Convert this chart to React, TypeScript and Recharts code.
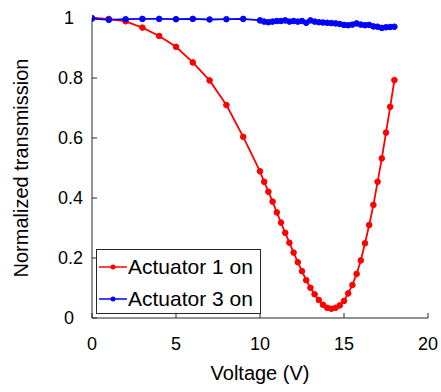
/* ── Transmission vs voltage — two actuators ─────────────────────── */

import { LineChart, Line, XAxis, YAxis } from 'recharts';

const VOLTS = [
  0, 1, 2, 3, 4, 5, 6, 7, 8, 9, 10,
  10.25, 10.5, 10.75, 11, 11.25, 11.5, 11.75, 12, 12.25, 12.5, 12.75, 13,
  13.25, 13.5, 13.75, 14, 14.25, 14.5, 14.75, 15, 15.25, 15.5, 15.75, 16,
  16.25, 16.5, 16.75, 17, 17.25, 17.5, 17.75, 18,
];

const ACT1 = [
  1.0, 0.997, 0.989, 0.968, 0.94, 0.904, 0.852, 0.792, 0.71, 0.604, 0.489,
  0.454, 0.421, 0.388, 0.352, 0.318, 0.284, 0.251, 0.218, 0.186, 0.156, 0.126, 0.101,
  0.079, 0.06, 0.044, 0.034, 0.031, 0.034, 0.042, 0.057, 0.082, 0.11, 0.147, 0.192,
  0.249, 0.31, 0.377, 0.454, 0.532, 0.618, 0.704, 0.793,
];

const ACT3 = [
  0.998, 0.994, 0.996, 0.997, 0.997, 0.996, 0.997, 0.995, 0.996, 0.997, 0.992,
  0.988, 0.986, 0.988, 0.99, 0.99, 0.992, 0.988, 0.99, 0.988, 0.99, 0.984, 0.992,
  0.988, 0.986, 0.985, 0.984, 0.983, 0.982, 0.98, 0.977, 0.976, 0.978, 0.982, 0.978,
  0.976, 0.977, 0.972, 0.971, 0.967, 0.969, 0.97, 0.971,
];

const X_TICKS = [0, 5, 10, 15, 20];
const Y_TICKS = [0, 0.2, 0.4, 0.6, 0.8, 1];

const SERIES = [
  { name: 'Actuator 1 on', color: '#ff0000', values: ACT1 },
  { name: 'Actuator 3 on', color: '#0000ff', values: ACT3 },
];

const AXIS = '#262626';
const FONT = '"Liberation Sans", Arial, Helvetica, sans-serif';

const blank = () => '';

/* matlab-ish y tick: whole numbers sit a bit further left */
function YTick({ x, y, payload }: any) {
  const v = payload.value as number;
  const dx = Number.isInteger(v) ? -9 : 0;
  return (
    <text x={x + dx} y={y} dy="0.355em" textAnchor="end" fontSize={18} fontFamily={FONT} fill="#000">
      {String(v)}
    </text>
  );
}

export default function App() {
  const data = VOLTS.map((v, i) => ({ v, a1: ACT1[i], a3: ACT3[i] }));

  return (
    <div style={{ position: 'fixed', left: 0, top: 0, width: 441, height: 392, background: '#fff', fontFamily: FONT }}>
      <LineChart width={441} height={392} data={data} margin={{ top: 18, right: 13, bottom: 44, left: 0 }}>
        <XAxis
          dataKey="v" type="number" domain={[0, 20]} ticks={X_TICKS} allowDataOverflow
          height={30} tickSize={-5} tickMargin={24}
          stroke={AXIS} tick={{ fill: '#000', fontSize: 18, fontFamily: FONT }}
        />
        <XAxis
          xAxisId="top" orientation="top" dataKey="v" type="number" domain={[0, 20]} ticks={X_TICKS}
          height={0} tickSize={-5} tickFormatter={blank} stroke={AXIS}
        />
        <YAxis
          type="number" domain={[0, 1]} ticks={Y_TICKS} width={92} tickSize={-5} tickMargin={14}
          stroke={AXIS} tick={<YTick />}
        />
        <YAxis
          yAxisId="right" orientation="right" type="number" domain={[0, 1]} ticks={Y_TICKS}
          width={0} tickSize={-5} tickFormatter={blank} stroke={AXIS}
        />
        <Line
          dataKey="a1" stroke="#ff0000" strokeWidth={1.8} isAnimationActive={false}
          dot={{ r: 2.8, fill: '#ff0000', stroke: '#ff0000', strokeWidth: 1 }}
        />
        <Line
          dataKey="a3" stroke="#0000ff" strokeWidth={1.8} isAnimationActive={false}
          dot={{ r: 2.8, fill: '#0000ff', stroke: '#0000ff', strokeWidth: 1 }}
        />
      </LineChart>

      {/* axis titles */}
      <div style={{ position: 'absolute', left: 160, width: 200, top: 362, textAlign: 'center', fontSize: 20, color: '#000' }}>
        Voltage (V)
      </div>
      <div style={{
        position: 'absolute', left: 21, top: 168, fontSize: 20, color: '#000', whiteSpace: 'nowrap',
        transform: 'translate(-50%, -50%) rotate(-90deg)',
      }}>
        Normalized transmission
      </div>

      {/* legend */}
      <div style={{
        position: 'absolute', left: 96, top: 249, width: 165, height: 65, background: '#fff',
        border: `1px solid ${AXIS}`, boxSizing: 'border-box',
      }}>
        {SERIES.map((s, i) => (
          <div key={s.name} style={{ position: 'absolute', left: 1, top: 4 + i * 32, height: 26, display: 'flex', alignItems: 'center', fontSize: 21, color: '#000', whiteSpace: 'nowrap' }}>
            <svg width={29} height={10} style={{ marginRight: 1 }}>
              <line x1={1} y1={5} x2={29} y2={5} stroke={s.color} strokeWidth={1.5} />
              <circle cx={15} cy={5} r={2.5} fill={s.color} />
            </svg>
            {s.name}
          </div>
        ))}
      </div>
    </div>
  );
}
